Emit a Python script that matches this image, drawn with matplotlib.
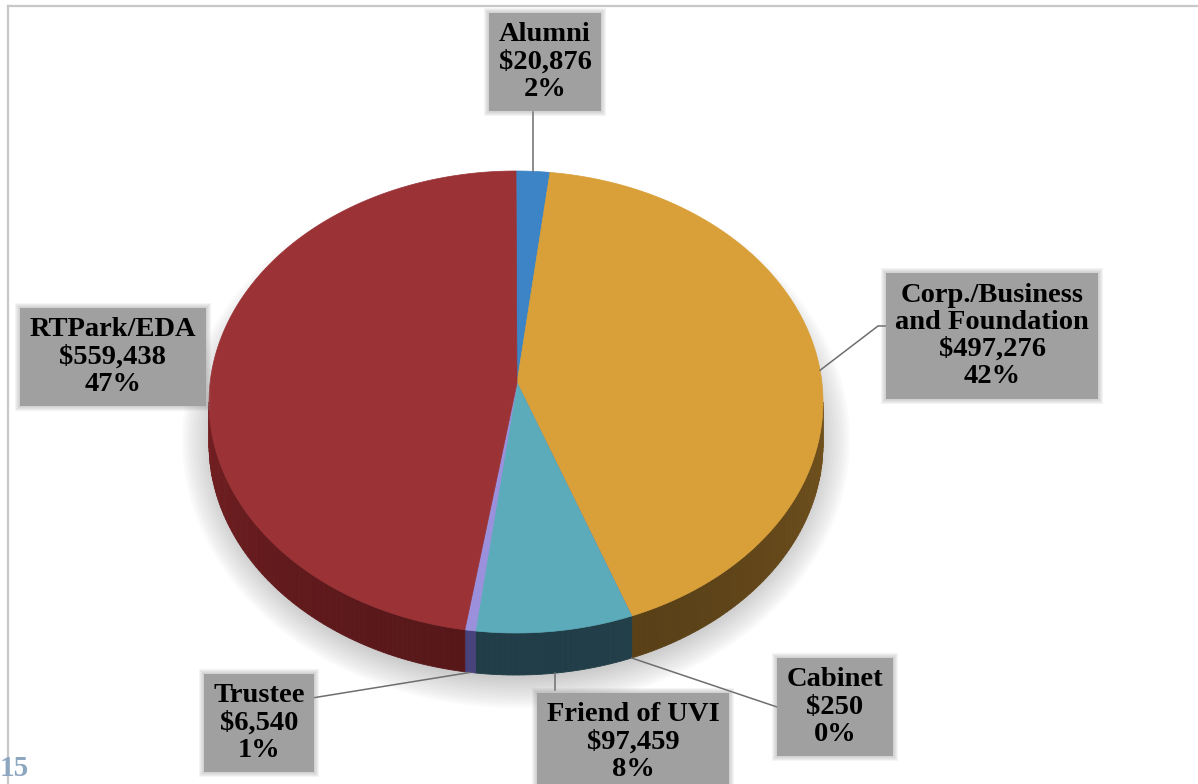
import numpy as np
import matplotlib.pyplot as plt
from matplotlib.patches import Polygon, Ellipse, Rectangle
import matplotlib.colors as mcolors

# data (clockwise from 12 o'clock)
labels = ['Alumni', 'Corp./Business\nand Foundation', 'Cabinet', 'Friend of UVI', 'Trustee', 'RTPark/EDA']
values = [20876, 497276, 250, 97459, 6540, 559438]
top_colors = ['#3C84C5', '#D9A03A', '#8E8E8E', '#5BABBA', '#9A90DC', '#9A3236']
side_colors = ['#1F4466', '#553D16', '#444444', '#213D47', '#47427C', '#561719']

# label box centres and leader elbows (pixels)
label_xy = [(545, 62), (992, 336), (835, 707), (633, 742), (259, 723), (113, 357)]
leader_to = [[(None, 112)], [(878, 326), (891, 326)], [(780, 708)], [(None, 690)], [(312, 698)], []]

W, H = 1198, 784
cx, cy, rx, ry = 516, 402, 307, 231
apex = (517, 383)
depth = 42

fig = plt.figure(figsize=(W / 100, H / 100), dpi=100)
ax = fig.add_axes([0, 0, 1, 1])
ax.set_xlim(0, W)
ax.set_ylim(H, 0)
ax.axis('off')


def ell(th, dy=0.0):
    t = np.radians(th)
    return cx + rx * np.sin(t), cy - ry * np.cos(t) + dy


# soft shadow
for k in range(22):
    ax.add_patch(Ellipse((516, 440), 2 * (334 - k * 2), 2 * (268 - k * 2),
                         facecolor='#707070', edgecolor='none', alpha=0.025, zorder=1))

total = sum(values)
frac = np.array(values) / total
bounds = np.concatenate([[0], np.cumsum(frac) * 360])

# sides (front half only)
for i in range(len(values)):
    a, b = max(bounds[i], 90), min(bounds[i + 1], 270)
    if b <= a:
        continue
    n = max(int((b - a) / 1.0), 1)
    ths = np.linspace(a, b, n + 1)
    base = np.array(mcolors.to_rgb(side_colors[i]))
    for j in range(n):
        t0, t1 = ths[j], ths[j + 1]
        tm = 0.5 * (t0 + t1)
        f = 1 + 0.35 * (abs(tm - 180) / 90) ** 1.5
        c = np.clip(base * f, 0, 1)
        x0, y0 = ell(t0)
        x1, y1 = ell(t1)
        ax.add_patch(Polygon([(x0, y0), (x1, y1), (x1, y1 + depth), (x0, y0 + depth)],
                             closed=True, facecolor=c, edgecolor=c, lw=0.6, zorder=2))

# top faces
for i in range(len(values)):
    ths = np.linspace(bounds[i], bounds[i + 1], max(int(bounds[i + 1] - bounds[i]) + 2, 2))
    xs, ys = ell(ths)
    pts = [apex] + list(zip(xs, ys))
    ax.add_patch(Polygon(pts, closed=True, facecolor=top_colors[i],
                         edgecolor=top_colors[i], lw=0.5, zorder=3))

# labels and leader lines
texts = []
for i in range(len(values)):
    mid = 0.5 * (bounds[i] + bounds[i + 1])
    front = np.cos(np.radians(mid)) < -0.3
    axx, ayy = ell(mid, depth if front else 0)
    pts = [(axx, ayy)]
    for px, py in leader_to[i]:
        pts.append((axx if px is None else px, py))
    if len(pts) > 1:
        xs, ys = zip(*pts)
        ax.plot(xs, ys, color='#6E6E6E', lw=1.1, zorder=4)

    pct = round(frac[i] * 100)
    txt = f"{labels[i]}\n${values[i]:,}\n{pct}%"
    lx, ly = label_xy[i]
    t = ax.text(lx, ly, txt, ha='center', va='center', color='black', fontsize=20.5,
                family='Liberation Serif', weight='bold', linespacing=1.12, zorder=6,
                bbox=dict(boxstyle='square,pad=0.33', facecolor='#A0A0A0', edgecolor='none'))
    texts.append(t)

# blurred edge round each label box
fig.canvas.draw()
inv = ax.transData.inverted()
for t in texts:
    bb = t.get_bbox_patch().get_window_extent()
    (x0, y1), (x1, y0) = inv.transform([(bb.x0, bb.y0), (bb.x1, bb.y1)])
    for k in range(1, 6):
        ax.add_patch(Rectangle((x0 - k, y0 - k), (x1 - x0) + 2 * k, (y1 - y0) + 2 * k,
                               facecolor='#8C8C8C', edgecolor='none', alpha=0.09, zorder=5))

# frame and page number
ax.plot([8, W], [6, 6], color='#C8C8C8', lw=1.6, zorder=0)
ax.plot([8, 8], [6, H], color='#C8C8C8', lw=1.6, zorder=0)
ax.text(0, 768, '15', ha='left', va='center', color='#8EA7C1', fontsize=21,
        family='Liberation Serif', weight='bold', zorder=6)

fig.savefig('out.png', dpi=100)
